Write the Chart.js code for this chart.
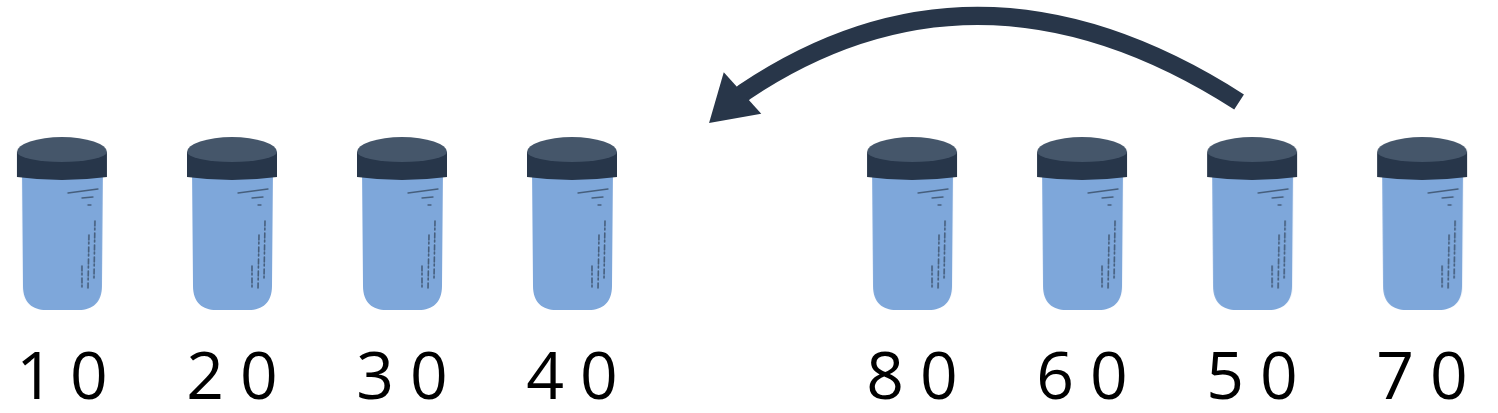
<!DOCTYPE html>
<html><head><meta charset="utf-8">
<script src="https://cdn.jsdelivr.net/npm/chart.js@4.4.1/dist/chart.umd.min.js"></script>
<style>html,body{margin:0;padding:0;background:#fff;overflow:hidden}canvas{display:block}</style>
</head><body>
<canvas id="c" width="1498" height="413"></canvas>
<script>
// ---- data ----
const jarLabels = ['10', '20', '30', '40', '80', '60', '50', '70'];
const jarSlots = [0, 1, 2, 3, 5, 6, 7, 8];      // slot 4 is the empty gap
const jarLevel = [1, 1, 1, 1, 1, 1, 1, 1];
const moveFromIndex = 6;   // the jar labelled "50"
const moveToSlot = 4;      // the empty slot between 40 and 80

// ---- jar sprite used as point style ----
function makeJar() {
  const c = document.createElement('canvas');
  c.width = 92; c.height = 176;
  const g = c.getContext('2d');
  // body
  const L = 6, R = 87, T = 30, B = 174, r = 24;
  g.fillStyle = '#7ea7da';
  g.beginPath();
  g.moveTo(L, T); g.lineTo(R, T); g.lineTo(R - 1, B - r);
  g.bezierCurveTo(R - 1, B - r * 0.3, R - r * 0.45, B, R - r, B);
  g.lineTo(L + r, B);
  g.bezierCurveTo(L + r * 0.45, B, L + 1, B - r * 0.3, L + 1, B - r);
  g.closePath();
  g.fill();
  // sketch marks
  g.strokeStyle = 'rgba(34,46,64,0.6)';
  g.lineCap = 'round';
  g.lineWidth = 1.3;
  g.beginPath();
  g.moveTo(52, 57); g.lineTo(82, 53);
  g.moveTo(66, 62); g.lineTo(77, 61);
  g.moveTo(72, 69); g.lineTo(75, 69);
  g.stroke();
  g.lineWidth = 1.6;
  g.setLineDash([5, 2, 2, 3]);
  g.beginPath();
  g.moveTo(79, 85); g.lineTo(78, 143);
  g.moveTo(73, 99); g.lineTo(72, 153);
  g.moveTo(66, 130); g.lineTo(66, 154);
  g.stroke();
  g.setLineDash([]);
  // lid side band
  g.fillStyle = '#27364a';
  g.beginPath();
  g.moveTo(1, 16); g.lineTo(1, 41);
  g.quadraticCurveTo(46, 47, 91, 41);
  g.lineTo(91, 16);
  g.closePath();
  g.fill();
  // lid top face
  g.fillStyle = '#45566a';
  g.beginPath();
  g.ellipse(46, 16, 45, 15, 0, Math.PI, 2 * Math.PI);
  g.ellipse(46, 16, 45, 10, 0, 0, Math.PI);
  g.closePath();
  g.fill();
  return c;
}
const jarSprite = makeJar();

// ---- plugins ----
const spacingPlugin = {
  id: 'spacing',
  beforeDraw(chart) { chart.ctx.letterSpacing = '16px'; }
};

const arrowPlugin = {
  id: 'moveArrow',
  afterDatasetsDraw(chart) {
    const xs = chart.scales.x, ys = chart.scales.y, ctx = chart.ctx;
    const jarTop = ys.getPixelForValue(jarLevel[moveFromIndex]) - jarSprite.height / 2 + 1;
    const fromX = xs.getPixelForValue(jarSlots[moveFromIndex]);
    const toX = xs.getPixelForValue(moveToSlot);
    const p0 = [fromX - 13, jarTop - 35];
    const b = [toX + 0.5, jarTop - 44];
    const p1 = [(p0[0] + b[0]) / 2 - 12, jarTop - 202];
    // head direction (slightly steeper than the shaft end)
    const ang = 42 * Math.PI / 180;
    const dx = -Math.cos(ang), dy = Math.sin(ang);
    const headLen = 45, headHalf = 28;
    ctx.save();
    ctx.letterSpacing = '0px';
    ctx.strokeStyle = '#283649';
    ctx.fillStyle = '#283649';
    ctx.lineWidth = 18;
    ctx.lineCap = 'butt';
    ctx.lineJoin = 'round';
    ctx.beginPath();
    ctx.moveTo(p0[0], p0[1]);
    ctx.quadraticCurveTo(p1[0], p1[1], b[0] + 2, b[1] - 1);
    ctx.lineTo(b[0] + dx * 16, b[1] + dy * 16);
    ctx.stroke();
    ctx.beginPath();
    ctx.moveTo(b[0] + dx * headLen, b[1] + dy * headLen);
    ctx.lineTo(b[0] - dy * headHalf, b[1] + dx * headHalf);
    ctx.lineTo(b[0] + dy * headHalf, b[1] - dx * headHalf);
    ctx.closePath();
    ctx.fill();
    ctx.restore();
  }
};

new Chart(document.getElementById('c'), {
  type: 'scatter',
  data: {
    datasets: [{
      data: jarSlots.map((x, i) => ({ x: x, y: jarLevel[i] })),
      pointStyle: jarSprite,
      pointRadius: 1,
      pointHoverRadius: 1,
      borderWidth: 0,
      backgroundColor: 'rgba(0,0,0,0)'
    }]
  },
  options: {
    responsive: false,
    animation: false,
    events: [],
    layout: { padding: { top: 101, bottom: 0, left: 0, right: 0 } },
    plugins: { legend: { display: false }, tooltip: { enabled: false } },
    scales: {
      x: {
        type: 'linear',
        min: -0.3583,
        max: 8.4405,
        grid: { display: false, drawTicks: false },
        border: { display: false },
        afterBuildTicks: (s) => { s.ticks = jarSlots.map(v => ({ value: v })); },
        ticks: {
          autoSkip: false,
          maxRotation: 0,
          padding: 0,
          labelOffset: 8,
          color: '#000',
          font: { family: '"Open Sans"', size: 66, lineHeight: 1 },
          callback: (v, i) => jarLabels[i]
        }
      },
      y: { display: false, min: 0, max: 2 }
    }
  },
  plugins: [spacingPlugin, arrowPlugin]
});
</script>
</body></html>
